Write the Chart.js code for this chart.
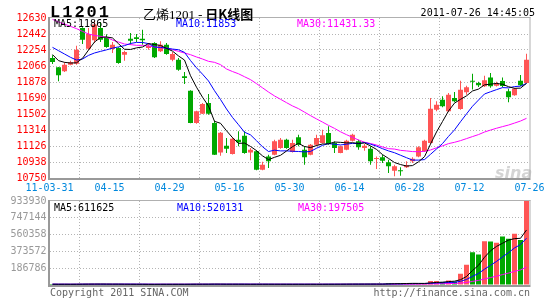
<!DOCTYPE html>
<html><head><meta charset="utf-8">
<script src="https://cdn.jsdelivr.net/npm/chart.js"></script>
<style>
html,body{margin:0;padding:0;background:#fff;}
#wrap{position:relative;width:545px;height:300px;overflow:hidden;font-family:"DejaVu Sans Mono",monospace;font-size:10px;}
.t{position:absolute;white-space:nowrap;line-height:1;}
canvas{position:absolute;left:0;}
</style></head><body>
<div id="wrap">
<canvas id="pc" width="545" height="198" style="top:0"></canvas>
<canvas id="vc" width="545" height="92" style="top:195px"></canvas>
<div class="t" style="left:50px;top:3px;font:bold 17px 'Liberation Mono',monospace;letter-spacing:2px;color:#000;">L1201</div>
<div class="t" style="left:143px;top:4px;font:13px 'Noto Sans CJK SC',sans-serif;color:#000;">乙烯<span style="font-family:'Liberation Serif',serif;">1201</span> - <b>日K线图</b></div>
<div class="t" style="right:10px;top:8px;color:#000;">2011-07-26 14:45:05</div>
<div class="t" style="left:54px;top:19px;color:#000;">MA5:11865</div>
<div class="t" style="left:176px;top:19px;color:#0000ff;">MA10:11853</div>
<div class="t" style="left:297px;top:19px;color:#ff00ff;">MA30:11431.33</div>
<div class="t" style="left:54px;top:203px;color:#000;">MA5:611625</div>
<div class="t" style="left:177px;top:203px;color:#0000ff;">MA10:520131</div>
<div class="t" style="left:298px;top:203px;color:#ff00ff;">MA30:197505</div>
<div class="t" style="left:495px;top:163px;font:italic bold 16px 'DejaVu Sans',sans-serif;color:rgba(170,170,170,0.5);">sina</div>
<div class="t" style="left:50px;top:288px;color:#666;">Copyright 2011 SINA.COM</div>
<div class="t" style="right:15px;top:288px;color:#666;">http://finance.sina.com.cn</div>
</div>
<script>
// ---- data ----
const tickLabels = ['11-03-31','04-15','04-29','05-16','05-30','06-14','06-28','07-12','07-26'];
const priceTicks = [10750,10938,11126,11314,11502,11690,11878,12066,12254,12442,12630];
const volTicks = [0,186786,373572,560358,747144,933930];

const opens = [12160,12050,12003,12082,12093,12512,12270,12370,12512,12405,
12266,12277,12199,12387,12403,12387,12277,12336,12238,12317,
12140,12140,11945,11776,11396,11506,11631,11396,11050,11130,
11032,11200,11247,11051,11063,10848,11004,11024,11102,11200,
11055,11228,11083,11024,11142,11161,11279,11161,11044,11083,
11189,11181,11102,11094,10973,10993,10934,10836,10836,10875,
10946,11004,11063,11161,11553,11670,11533,11690,11561,11757,
11894,11866,11827,11930,11835,11890,11770,11721,11894,11866];
const highs = [12191,12054,12109,12129,12305,12520,12512,12599,12583,12440,
12348,12285,12246,12454,12442,12493,12336,12344,12356,12336,
12230,12160,11995,11780,11541,11631,11737,11424,11290,11220,
11230,11298,11298,11102,11075,10940,11024,11200,11220,11210,
11200,11259,11122,11149,11259,11318,11357,11180,11130,11200,
11271,11200,11149,11122,11004,11024,10965,10907,10875,10946,
10993,11122,11200,11690,11651,11710,11749,11760,11894,11835,
11975,11880,11950,11985,11880,11930,11800,11810,11960,12210];
const lows = [12089,11886,11995,12074,12082,12325,12258,12336,12348,12280,
12219,12093,12129,12317,12348,12317,12258,12160,12230,12199,
12121,12011,11854,11392,11388,11502,11494,11020,11010,11044,
11025,11122,11036,10960,10840,10840,10867,11016,11094,11095,
11050,11122,10907,11016,11122,11155,11142,11044,11040,11075,
11180,11083,11071,10907,10856,10926,10809,10770,10777,10867,
10926,10993,11055,11149,11533,11580,11525,11640,11553,11729,
11790,11820,11820,11810,11825,11815,11640,11715,11830,11860];
const closes = [12113,11956,12082,12109,12258,12375,12442,12555,12375,12290,
12317,12101,12230,12364,12383,12368,12305,12168,12317,12207,
12207,12023,11925,11396,11533,11619,11506,11024,11283,11095,
11212,11169,11044,11083,10848,10907,10946,11181,11200,11102,
11161,11142,10993,11142,11220,11251,11149,11102,11122,11189,
11259,11110,11130,10946,10985,10954,10887,10887,10828,10899,
10977,11110,11189,11565,11612,11592,11729,11651,11788,11815,
11880,11840,11900,11827,11860,11830,11700,11800,11840,12140];
const volumes = [9000,8000,9000,7000,10000,12000,10000,11000,9000,8000,
9000,10000,8000,7000,8000,9000,7000,8000,9000,8000,
9000,8000,7000,12000,10000,9000,8000,11000,10000,8000,
9000,8000,9000,8000,10000,9000,8000,9000,8000,9000,
8000,9000,8000,9000,8000,9000,10000,9000,10000,10000,
11000,10000,10000,11000,10000,10000,20000,18000,18000,17000,
18000,18000,17000,45000,45000,33000,50000,40000,125000,225000,
365000,340000,487000,483000,470000,540000,515000,570000,500000,933930];
const ma5Head = [12200,12129,12109,12101];
const ma10Head = [12285,12246,12207,12168,12136,12148,12191,12219,12238];
const ma30Head = [12614,12583,12559,12532,12505,12473,12442,12426,12415,12403,
12371,12348,12324,12317,12309,12309,12301,12289,12281,12277,
12258,12238,12219,12199,12172,12148,12121,12109,12082];

// ---- build ----
function movingAvg(src, n, head){
  return src.map((_, i) => {
    if (i < n - 1) {
      if (head) return head[i];
      const s = src.slice(0, i + 1); return s.reduce((a,b)=>a+b,0)/s.length;
    }
    return src.slice(i - n + 1, i + 1).reduce((a,b)=>a+b,0)/n;
  });
}
const RED = '#ff5555', GREEN = '#00a800';
const xs = closes.map((_, i) => i + 0.5);
const cols = closes.map((c, i) => c >= opens[i] ? RED : GREEN);
const pt = arr => arr.map((v, i) => ({x: xs[i], y: v}));

Chart.defaults.font.family = "'DejaVu Sans Mono', monospace";
Chart.defaults.font.size = 10;
Chart.defaults.animation = false;

const GRID = '#b4b4b4';
const frame = {
  id: 'frame',
  afterDatasetsDraw(c){
    const {left, right, top, bottom} = c.chartArea, g = c.ctx;
    g.save();
    g.fillStyle = '#b0b0b0';
    g.fillRect(left, top - 1, right - left + 1, 1);
    g.fillRect(right, top - 1, 1, bottom - top + 1);
    g.fillStyle = '#999999';
    g.fillRect(left - 1.5, top - 1, 2, bottom - top + 3);
    g.fillRect(left - 1.5, bottom, right - left + 2.5, 2);
    g.restore();
  }
};
const xEdge = v => v === 0 || v === 80;
function xScale(showTicks){
  return {
    type: 'linear', min: 0, max: 80, offset: false,
    afterBuildTicks(s){ s.ticks = tickLabels.map((_, k) => ({value: k * 10})); },
    afterFit(s){ s.height = showTicks ? 20 : 0; s.paddingLeft = 0; s.paddingRight = 0; },
    ticks: { display: showTicks, autoSkip: false, maxRotation: 0, minRotation: 0, padding: 4,
      color: '#0088dd', callback: v => tickLabels[Math.round(v / 10)] },
    grid: { drawTicks: false, lineWidth: 1, borderDash: [1, 2],
      color: c => (c.tick && xEdge(c.tick.value)) ? 'rgba(0,0,0,0)' : GRID },
    border: { display: false, dash: [1, 2] }
  };
}

const ma5 = movingAvg(closes, 5, ma5Head);
const ma10 = movingAvg(closes, 10, ma10Head);
const ma30 = movingAvg(closes, 30, ma30Head);

new Chart(document.getElementById('pc'), {
  type: 'bar',
  data: { datasets: [
    {type:'line', data: pt(ma5), borderColor:'#000', borderWidth:1, pointRadius:0, tension:0, order:0},
    {type:'line', data: pt(ma10), borderColor:'#0000ff', borderWidth:1, pointRadius:0, tension:0, order:0},
    {type:'line', data: pt(ma30), borderColor:'#ff00ff', borderWidth:1, pointRadius:0, tension:0, order:0},
    {data: xs.map((x, i) => ({x, y: [opens[i], closes[i]]})), backgroundColor: cols, barThickness: 5,
      minBarLength: 1, grouped: false, inflateAmount: 0, borderWidth: 0, order: 1},
    {data: xs.map((x, i) => ({x, y: [lows[i], highs[i]]})), backgroundColor: cols, barThickness: 1,
      grouped: false, inflateAmount: 0, borderWidth: 0, order: 2}
  ]},
  options: {
    responsive: false, animation: false,
    layout: { padding: {top: 18, right: 15.5, bottom: 0, left: 0} },
    plugins: { legend: {display: false}, tooltip: {enabled: false} },
    scales: {
      x: xScale(true),
      y: { type: 'linear', min: 10750, max: 12630,
        afterBuildTicks(s){ s.ticks = priceTicks.map(v => ({value: v})); },
        afterFit(s){ s.width = 49.5; s.paddingTop = 0; s.paddingBottom = 0; },
        ticks: { color: '#ff0000', padding: 3, callback: v => String(v) },
        grid: { drawTicks: false, lineWidth: 1, borderDash: [1, 2],
          color: c => (c.tick && (c.tick.value === 10750 || c.tick.value === 12630)) ? 'rgba(0,0,0,0)' : GRID },
        border: { display: false, dash: [1, 2] }
      }
    }
  },
  plugins: [frame]
});

const vma5 = movingAvg(volumes, 5);
const vma10 = movingAvg(volumes, 10);
const vma30 = movingAvg(volumes, 30);

new Chart(document.getElementById('vc'), {
  type: 'bar',
  data: { datasets: [
    {type:'line', data: pt(vma5), borderColor:'#000', borderWidth:1, pointRadius:0, tension:0, order:0},
    {type:'line', data: pt(vma10), borderColor:'#0000ff', borderWidth:1, pointRadius:0, tension:0, order:0},
    {type:'line', data: pt(vma30), borderColor:'#ff00ff', borderWidth:1, pointRadius:0, tension:0, order:0},
    {data: xs.map((x, i) => ({x, y: volumes[i]})), backgroundColor: cols, barThickness: 5,
      minBarLength: 1, grouped: false, inflateAmount: 0, borderWidth: 0, order: 1}
  ]},
  options: {
    responsive: false, animation: false,
    layout: { padding: {top: 6, right: 15.5, bottom: 2, left: 0} },
    plugins: { legend: {display: false}, tooltip: {enabled: false} },
    scales: {
      x: xScale(false),
      y: { type: 'linear', min: 0, max: 933930,
        afterBuildTicks(s){ s.ticks = volTicks.map(v => ({value: v})); },
        afterFit(s){ s.width = 49.5; s.paddingTop = 0; s.paddingBottom = 0; },
        ticks: { color: '#999999', padding: 3, callback: v => v === 0 ? '' : String(v) },
        grid: { drawTicks: false, lineWidth: 1, borderDash: [1, 2],
          color: c => (c.tick && (c.tick.value === 0 || c.tick.value === 933930)) ? 'rgba(0,0,0,0)' : GRID },
        border: { display: false, dash: [1, 2] }
      }
    }
  },
  plugins: [frame]
});
</script>
</body></html>
